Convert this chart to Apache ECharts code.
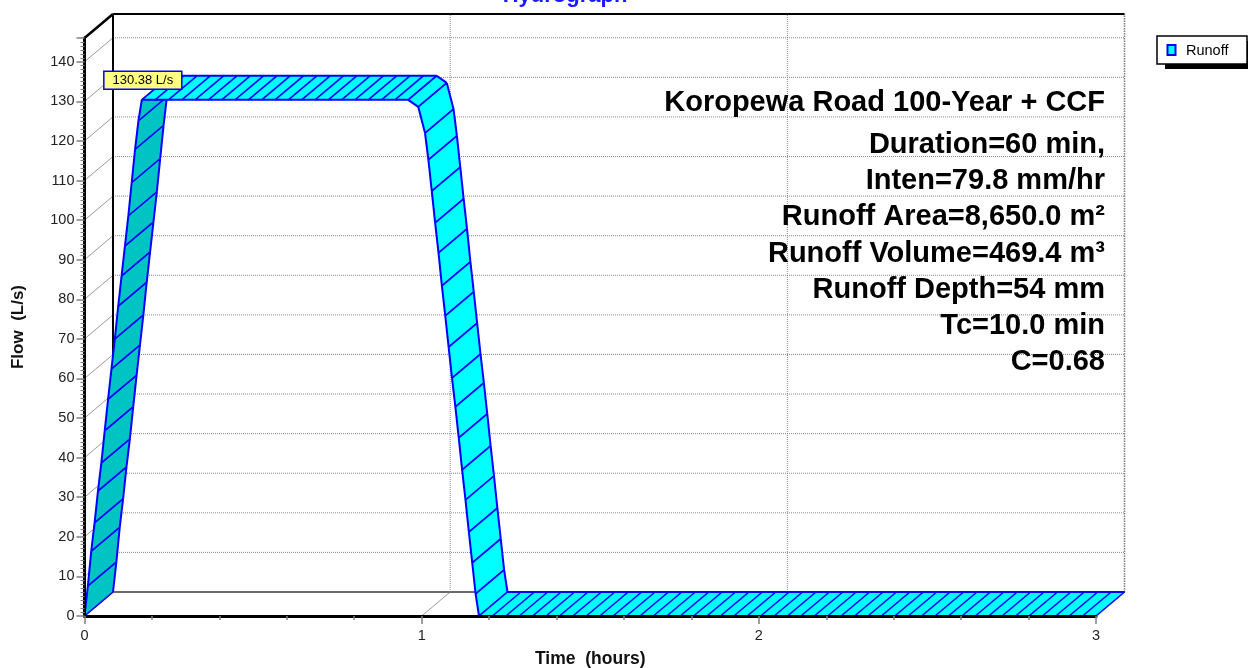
<!DOCTYPE html>
<html>
<head>
<meta charset="utf-8">
<title>Hydrograph</title>
<script src="https://cdn.jsdelivr.net/npm/echarts@6/dist/echarts.min.js"></script>
<style>
  html, body { margin: 0; padding: 0; background: #ffffff; }
  #chart { width: 1248px; height: 668px; }
</style>
</head>
<body>
<div id="chart"></div>
<script>
// Runoff hydrograph (time in hours, flow in L/s)
const hours = [
  0.00, 0.01, 0.02, 0.03, 0.04, 0.05, 0.06, 0.07, 0.08, 0.09,
  0.10, 0.11, 0.12, 0.13, 0.14, 0.15, 0.16, 0.17,
  0.96, 0.99, 1.01, 1.02, 1.03, 1.04, 1.05, 1.06, 1.07, 1.08, 1.09,
  1.10, 1.11, 1.12, 1.13, 1.14, 1.15, 1.16, 1.17,
  3.00
];
const flow = [
  0.0, 7.6, 16.4, 23.6, 31.6, 38.7, 46.8, 54.8, 62.4, 70.0,
  78.3, 85.9, 93.5, 101.1, 109.5, 117.9, 125.1, 130.38,
  130.38, 128.6, 122.0, 115.2, 107.3, 99.3, 91.7, 83.4, 75.8, 67.9, 60.1,
  52.8, 45.0, 36.9, 29.3, 21.2, 13.4, 5.6, 0.0,
  0.0
];

const seriesName = 'Runoff';
const peakLabel = '130.38 L/s';
const peakValue = 130.38;

const flowTicks = [0, 10, 20, 30, 40, 50, 60, 70, 80, 90, 100, 110, 120, 130, 140];
const timeTicks = [0, 1, 2, 3];
const flowTop = 146;
const timeEnd = 3;

const chartTitle = 'Hydrograph';
const infoLines = [
  'Koropewa Road 100-Year + CCF',
  'Duration=60 min,',
  'Inten=79.8 mm/hr',
  'Runoff Area=8,650.0 m²',
  'Runoff Volume=469.4 m³',
  'Runoff Depth=54 mm',
  'Tc=10.0 min',
  'C=0.68'
];

// pseudo-3D depth of the plot (pixel shift of the back wall)
const DX = 28.5, DY = -24;
const FONT = '"Liberation Sans", Arial, Helvetica, sans-serif';
const BLUE = '#0000ff';
const HATCH_PX = 13.5;

const chart = echarts.init(document.getElementById('chart'), null, { renderer: 'canvas' });

function seg(p1, p2, style) {
  return { type: 'line', silent: true,
    shape: { x1: p1[0], y1: p1[1], x2: p2[0], y2: p2[1] }, style: style };
}

// back wall, floor and depth guide lines
function renderFrame(params, api) {
  const f = (t, q) => api.coord([t, q]);
  const b = (t, q) => { const p = api.coord([t, q]); return [p[0] + DX, p[1] + DY]; };
  const out = [];
  const dotted = { stroke: '#8a8a8a', lineWidth: 1, lineDash: [1, 1] };
  const thin = { stroke: '#9a9a9a', lineWidth: 1 };
  flowTicks.forEach(v => {
    if (v === 0) return;
    out.push(seg(b(0, v), b(timeEnd, v), dotted));
    out.push(seg(f(0, v), b(0, v), thin));
  });
  timeTicks.forEach(t => {
    if (t === 0) return;
    out.push(seg(b(t, 0), b(t, flowTop), t === timeEnd ? { stroke: '#7a7a7a', lineWidth: 1.5, lineDash: [1.5, 1] } : dotted));
    out.push(seg(f(t, 0), b(t, 0), thin));
  });
  // back floor edge
  out.push(seg(b(0, 0), b(timeEnd, 0), { stroke: '#6a6a6a', lineWidth: 2.2 }));
  out.push(seg(f(0, 0), b(0, 0), { stroke: '#6a6a6a', lineWidth: 1.5 }));
  // back wall outline
  out.push(seg(b(0, 0), b(0, flowTop), { stroke: '#000', lineWidth: 2 }));
  out.push(seg(b(0, flowTop), b(timeEnd, flowTop), { stroke: '#000', lineWidth: 2.2 }));
  out.push(seg(f(0, flowTop), b(0, flowTop), { stroke: '#000', lineWidth: 2.6 }));
  return { type: 'group', children: out };
}

// ribbon drawn segment by segment, front edge on the front plane, back edge on the back wall
function renderRibbon(params, api) {
  const out = [];
  const f = i => api.coord([hours[i], flow[i]]);
  const b = i => { const p = f(i); return [p[0] + DX, p[1] + DY]; };
  const edge = { stroke: BLUE, lineWidth: 2 };
  const hatch = { stroke: BLUE, lineWidth: 1.6 };
  for (let i = 0; i < hours.length - 1; i++) {
    const p0 = f(i), p1 = f(i + 1), q0 = b(i), q1 = b(i + 1);
    const sx = p1[0] - p0[0], sy = p1[1] - p0[1];
    const facing = sx * DY - sy * DX;
    out.push({ type: 'polygon', silent: true,
      shape: { points: [p0, p1, q1, q0] },
      style: { fill: facing > 0 ? '#00c4c4' : '#00ffff', stroke: null } });
    // long flat runs get extra hatch strokes
    const len = Math.hypot(sx, sy);
    if (len > 60) {
      const n = Math.round(len / HATCH_PX);
      for (let k = 1; k < n; k++) {
        const r = k / n;
        const a = [p0[0] + sx * r, p0[1] + sy * r];
        out.push(seg(a, [a[0] + DX, a[1] + DY], hatch));
      }
    }
    out.push(seg(p0, q0, hatch));
    out.push(seg(p1, q1, hatch));
    out.push(seg(p0, p1, edge));
    out.push(seg(q0, q1, edge));
  }
  // peak flow callout
  const ip = flow.indexOf(peakValue);
  const pk = f(ip);
  out.push({ type: 'rect', silent: true,
    shape: { x: pk[0] - 38, y: pk[1] - 28.5, width: 78, height: 18 },
    style: { fill: '#ffff80', stroke: BLUE, lineWidth: 1.5 } });
  out.push({ type: 'text', silent: true,
    style: { text: peakLabel, x: pk[0] + 1, y: pk[1] - 19.5, align: 'center', verticalAlign: 'middle',
      font: '13px ' + FONT, fill: '#000' } });
  return { type: 'group', children: out };
}

const infoGraphics = infoLines.map((txt, i) => ({
  type: 'text', silent: true, z: 10,
  style: { text: txt, x: 1105, y: i === 0 ? 103 : 145 + (i - 1) * 36.2,
    textAlign: 'right', textVerticalAlign: 'middle',
    font: 'bold 29px ' + FONT, fill: '#000' }
}));

const option = {
  backgroundColor: '#ffffff',
  animation: false,
  grid: { left: 84.5, right: 152, top: 38, bottom: 52, containLabel: false, outerBoundsMode: 'none' },
  xAxis: {
    type: 'value', min: 0, max: timeEnd, interval: 1, z: 5,
    name: 'Time  (hours)', nameLocation: 'middle', nameGap: 34,
    nameTextStyle: { fontFamily: FONT, fontWeight: 'bold', fontSize: 17.5, color: '#111' },
    axisLine: { show: true, onZero: false, lineStyle: { color: '#000', width: 3 } },
    axisTick: { show: true, length: 8, lineStyle: { color: '#808080', width: 1.5 } },
    minorTick: { show: true, splitNumber: 5, length: 4, lineStyle: { color: '#808080', width: 1.5 } },
    axisLabel: { margin: 12, fontFamily: FONT, fontSize: 14.5, color: '#222',
      formatter: v => timeTicks.includes(v) ? String(v) : '' },
    splitLine: { show: false }
  },
  yAxis: {
    type: 'value', min: 0, max: flowTop, interval: 10, z: 5,
    name: 'Flow  (L/s)', nameLocation: 'middle', nameGap: 58,
    nameTextStyle: { fontFamily: FONT, fontWeight: 'bold', fontSize: 17, color: '#111' },
    axisLine: { show: true, onZero: false, lineStyle: { color: '#000', width: 3 } },
    axisTick: { show: true, length: 8, lineStyle: { color: '#808080', width: 1.5 } },
    minorTick: { show: true, splitNumber: 10, length: 4, lineStyle: { color: '#808080', width: 1.2 } },
    axisLabel: { margin: 10, fontFamily: FONT, fontSize: 14.5, color: '#222', showMaxLabel: false,
      formatter: v => flowTicks.includes(v) ? String(v) : '' },
    splitLine: { show: false }
  },
  series: [
    { type: 'custom', name: 'frame', coordinateSystem: 'cartesian2d', z: 1, silent: true,
      renderItem: renderFrame, data: [[0, 0]], clip: false },
    { type: 'custom', name: seriesName, coordinateSystem: 'cartesian2d', z: 2, silent: true,
      renderItem: renderRibbon, data: [[hours[0], flow[0]]], clip: false }
  ],
  graphic: [
    { type: 'text', silent: true, z: 10,
      style: { text: chartTitle, x: 565, y: 7, textAlign: 'center', textVerticalAlign: 'bottom',
        font: 'bold 22px ' + FONT, fill: '#1a1aff' } },
    // legend
    { type: 'rect', silent: true, z: 9, shape: { x: 1165, y: 41, width: 90, height: 28 }, style: { fill: '#000' } },
    { type: 'rect', silent: true, z: 10, shape: { x: 1157, y: 36, width: 90, height: 28 },
      style: { fill: '#fff', stroke: '#000', lineWidth: 1.5 } },
    { type: 'rect', silent: true, z: 11, shape: { x: 1167.5, y: 45, width: 8, height: 10 },
      style: { fill: '#00ffff', stroke: BLUE, lineWidth: 2 } },
    { type: 'text', silent: true, z: 11,
      style: { text: seriesName, x: 1186, y: 50.5, textVerticalAlign: 'middle', font: '14.5px ' + FONT, fill: '#000' } }
  ].concat(infoGraphics)
};

chart.setOption(option);
</script>
</body>
</html>
